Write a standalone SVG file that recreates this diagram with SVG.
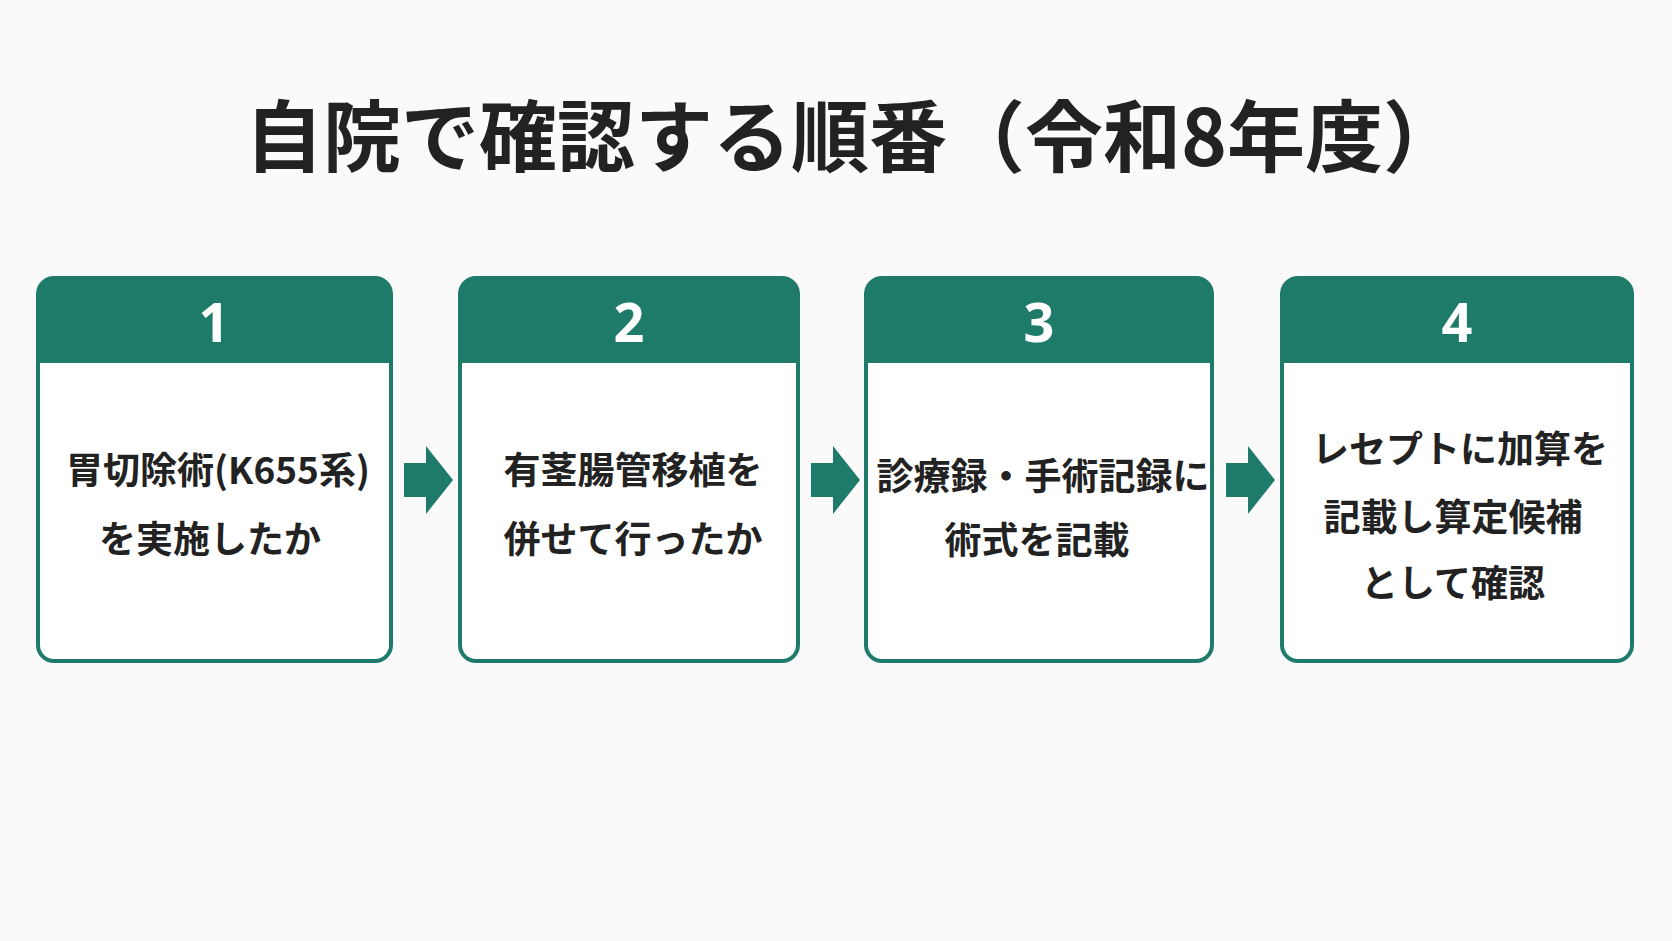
<svg xmlns="http://www.w3.org/2000/svg" width="1672" height="941" viewBox="0 0 1672 941">
<style>
.box{fill:#fff;stroke:#1e7b6a;stroke-width:4}
.hd{fill:#1e7b6a}
.num{font-family:"Noto Sans","Liberation Sans",sans-serif;font-weight:700;font-size:54px;fill:#fff;text-anchor:middle}
.t{font-family:"Noto Sans CJK JP","Noto Sans",sans-serif;font-weight:700;font-size:37px;fill:#222;text-anchor:middle}
.title{font-family:"Noto Sans CJK JP","Noto Sans",sans-serif;font-weight:700;font-size:78px;fill:#222;text-anchor:middle}
.ar{fill:#1e7b6a}
</style>
<rect width="1672" height="941" fill="#fafafa"/>
<text class="title" x="853" y="166">自院で確認する順番（令和8年度）</text>
<g id="n1"><rect class="box" x="38" y="278" width="353" height="383" rx="16"/><path class="hd" d="M38 294a16 16 0 0 1 16-16h321a16 16 0 0 1 16 16v69H38z"/><text class="num" x="214" y="342">1</text><text class="t" x="218" y="484">胃切除術(K655系)</text><text class="t" x="210" y="553">を実施したか</text></g>
<g id="n2"><rect class="box" x="460" y="278" width="338" height="383" rx="16"/><path class="hd" d="M460 294a16 16 0 0 1 16-16h306a16 16 0 0 1 16 16v69H460z"/><text class="num" x="629" y="342">2</text><text class="t" x="633" y="484">有茎腸管移植を</text><text class="t" x="633" y="553">併せて行ったか</text></g>
<g id="n3"><rect class="box" x="866" y="278" width="346" height="383" rx="16"/><path class="hd" d="M866 294a16 16 0 0 1 16-16h314a16 16 0 0 1 16 16v69H866z"/><text class="num" x="1039" y="342">3</text><text class="t" x="1043" y="490" font-size="34">診療録・手術記録に</text><text class="t" x="1037" y="554">術式を記載</text></g>
<g id="n4"><rect class="box" x="1282" y="278" width="350" height="383" rx="16"/><path class="hd" d="M1282 294a16 16 0 0 1 16-16h318a16 16 0 0 1 16 16v69H1282z"/><text class="num" x="1457" y="342">4</text><text class="t" x="1460" y="463">レセプトに加算を</text><text class="t" x="1453" y="531">記載し算定候補</text><text class="t" x="1453" y="597">として確認</text></g>
<g id="connectors">
<path class="ar" d="M404 463h22v-17l27 34-27 34v-17h-22z"/>
<path class="ar" d="M811 463h22v-17l27 34-27 34v-17h-22z"/>
<path class="ar" d="M1226 463h22v-17l27 34-27 34v-17h-22z"/>
</g>
</svg>
